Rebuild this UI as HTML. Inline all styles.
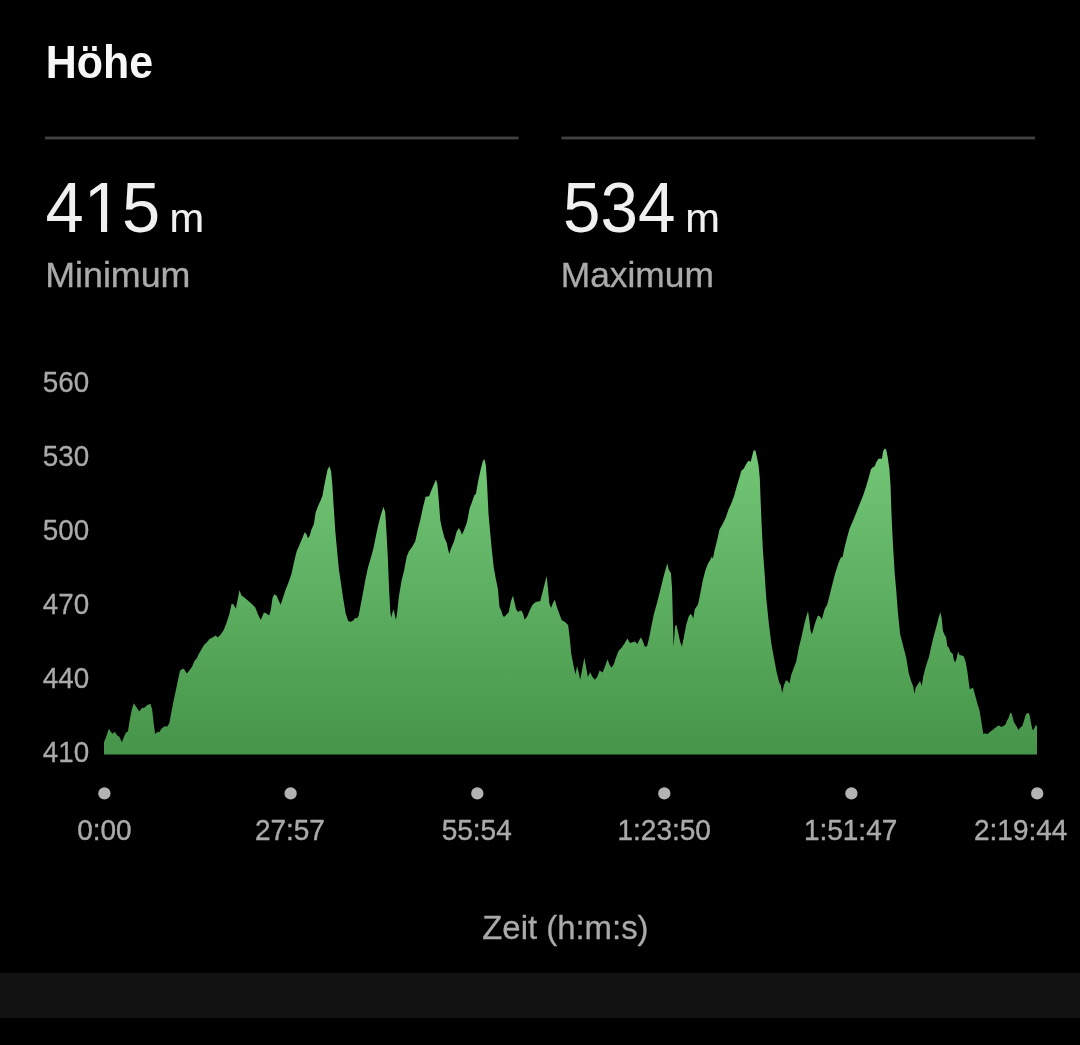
<!DOCTYPE html>
<html lang="de">
<head>
<meta charset="utf-8">
<title>Höhe</title>
<style>
html,body{margin:0;padding:0;background:#000;}
body{width:1080px;height:1045px;overflow:hidden;font-family:"Liberation Sans",sans-serif;}
svg{display:block;will-change:transform;}
svg text{font-family:"Liberation Sans",sans-serif;}
</style>
</head>
<body>
<svg width="1080" height="1045" viewBox="0 0 1080 1045">
<defs><linearGradient id="g" gradientUnits="userSpaceOnUse" x1="0" y1="384" x2="0" y2="754"><stop offset="0" stop-color="#7bd17f"/><stop offset="1" stop-color="#46954a"/></linearGradient></defs>
<rect x="0" y="0" width="1080" height="1045" fill="#000"/>
<rect x="0" y="973" width="1080" height="45" fill="#121212"/>
<rect x="45" y="136.6" width="473.5" height="2.8" fill="#424242"/>
<rect x="561.5" y="136.6" width="473.5" height="2.8" fill="#424242"/>
<path d="M104.0 754.4L104.0 741.9L104.1 741.9L105.9 737.4L108.9 728.8L111.1 732.2L112.6 733.7L114.8 731.8L117.0 735.2L119.3 736.7L121.9 742.3L124.4 735.9L125.9 732.7L127.9 731.5L129.6 721.1L131.9 709.3L133.8 703.3L136.3 707.0L139.3 711.5L142.2 707.8L144.0 708.1L147.4 705.1L150.4 703.8L152.1 709.3L153.6 722.6L155.1 734.1L157.8 731.8L159.3 732.2L161.5 728.5L163.7 727.0L165.2 726.0L167.0 726.7L169.3 723.3L171.1 713.7L173.3 701.9L175.6 691.5L177.8 681.1L180.0 670.7L183.0 668.5L184.7 670.0L186.7 673.4L188.9 671.0L191.9 667.0L194.8 660.4L197.0 658.1L198.5 654.4L201.5 649.3L204.4 644.4L206.7 642.6L209.6 638.9L212.6 637.4L215.6 635.5L217.8 637.4L220.7 634.4L223.7 630.0L226.7 622.3L229.5 613.5L231.7 603.5L233.8 604.8L235.8 608.8L237.6 599.7L239.5 590.2L241.5 595.4L245.0 598.0L248.4 601.1L251.9 604.0L255.3 607.4L257.9 614.3L260.8 620.0L263.9 612.6L266.5 613.5L269.1 615.5L270.8 610.0L272.5 598.0L274.3 594.2L276.5 595.4L278.6 600.5L280.6 604.8L282.9 598.0L285.4 590.2L288.9 581.6L291.5 573.8L294.1 561.8L296.6 551.5L299.2 545.4L301.8 539.4L304.7 532.2L306.5 534.2L307.8 538.2L309.6 536.0L311.3 529.9L313.9 523.9L315.6 512.7L318.2 505.8L320.8 500.1L322.5 495.5L324.2 486.0L325.9 477.4L327.6 469.6L329.4 466.2L331.1 471.4L332.3 484.3L333.7 506.7L335.4 532.5L337.1 550.6L338.8 568.7L340.6 580.7L343.1 597.9L345.7 613.5L348.3 621.2L350.9 621.7L353.5 620.3L355.2 617.8L356.9 618.6L358.6 616.0L360.4 606.6L363.0 592.8L365.5 579.0L368.1 567.0L370.7 558.3L373.3 548.9L375.9 536.0L378.5 523.9L381.0 514.4L383.4 506.8L385.2 512.0L386.5 532.7L387.8 556.8L389.0 587.8L390.3 611.9L391.2 617.4L392.4 612.8L393.8 609.3L395.2 617.1L396.0 619.7L397.2 611.9L398.9 596.4L401.5 580.9L404.1 570.6L406.7 556.8L408.9 551.3L411.9 547.3L415.3 541.3L417.9 529.2L420.5 518.9L423.1 506.8L425.6 496.8L429.1 496.2L431.7 489.6L434.3 483.6L436.0 479.6L437.4 484.4L438.6 498.2L440.3 520.6L442.0 528.4L444.6 538.2L446.8 543.0L448.0 549.0L449.2 553.9L451.5 547.3L454.1 541.3L456.6 531.8L458.9 527.9L460.6 531.0L462.0 534.7L464.4 529.2L467.0 522.3L469.6 508.6L472.1 501.7L474.4 495.1L475.9 493.9L478.2 481.0L480.8 468.9L482.8 461.2L484.4 459.0L485.9 465.5L487.1 484.4L488.5 513.7L490.2 532.7L492.0 551.6L493.7 567.1L495.7 578.3L498.0 589.5L499.4 606.7L501.4 611.0L502.6 615.3L504.0 617.1L506.6 614.5L508.8 611.9L510.9 601.6L513.0 595.5L514.3 601.6L516.1 609.3L518.3 612.2L519.9 610.5L521.6 611.0L523.0 613.6L524.7 619.7L527.3 616.2L529.8 610.2L532.4 605.0L535.0 602.4L537.6 601.6L540.2 601.2L542.8 591.2L545.0 582.6L546.6 576.1L547.9 587.8L549.3 603.3L551.0 608.1L552.8 603.3L554.8 599.5L557.1 607.7L559.4 614.0L561.8 620.3L565.0 621.9L568.1 625.0L569.7 637.6L571.2 653.3L573.3 664.4L575.5 674.6L577.1 665.9L578.6 672.2L580.2 679.8L582.3 669.1L584.3 657.7L585.9 665.9L587.8 676.9L590.1 672.2L592.5 676.9L594.9 679.8L597.2 676.9L599.6 670.6L602.7 672.5L605.1 665.9L607.5 659.6L609.5 664.4L611.4 667.8L613.7 664.4L616.1 657.3L618.5 651.0L621.6 647.8L624.8 643.1L627.4 638.4L630.0 643.1L632.6 642.3L635.0 641.5L637.4 643.9L638.9 640.7L641.0 637.3L642.9 641.5L644.9 646.7L647.1 646.2L649.2 637.6L651.5 625.8L653.9 614.0L657.0 603.0L660.2 590.4L663.3 577.8L665.7 569.1L667.3 563.6L668.8 569.9L670.9 573.1L672.0 587.2L672.8 615.6L673.6 647.0L675.1 625.8L676.4 625.0L678.3 632.9L679.9 640.7L681.9 646.7L683.8 637.6L686.2 625.0L688.5 617.1L690.6 613.7L692.1 615.6L693.2 618.7L694.8 609.3L698.0 604.5L700.0 595.0L702.6 581.2L705.2 570.9L707.8 564.0L710.3 559.7L711.7 556.8L712.9 558.5L714.6 550.2L717.2 539.9L719.5 529.6L722.4 524.4L725.8 517.5L728.4 509.8L731.9 502.0L734.4 495.1L737.0 485.6L739.6 477.0L741.3 470.7L743.9 468.4L745.6 465.0L748.2 461.0L750.8 461.5L752.5 454.6L753.7 450.3L755.5 450.7L756.8 456.4L758.6 465.8L759.8 477.9L760.6 500.3L761.7 526.1L762.9 550.2L764.5 571.7L766.2 597.5L768.8 623.3L771.4 644.0L773.9 657.8L776.5 671.6L779.1 681.9L780.8 685.3L782.2 693.1L783.9 685.3L786.0 680.2L787.7 681.0L789.4 683.6L791.2 675.0L793.8 668.1L796.3 661.2L798.9 647.5L801.5 637.1L804.1 625.1L806.3 616.5L808.0 611.3L809.3 619.9L810.5 630.2L811.8 634.5L813.6 628.5L815.3 622.5L817.9 615.6L820.1 616.5L821.8 619.6L823.6 613.0L824.8 608.7L827.3 604.4L829.9 594.1L832.5 583.7L835.1 573.4L838.5 563.1L841.1 557.0L842.5 557.5L844.3 548.5L846.9 538.2L849.5 528.7L852.9 520.9L856.4 512.3L859.8 503.7L863.3 495.1L865.8 487.4L868.4 478.8L871.0 469.3L872.7 467.2L874.4 466.7L876.2 462.4L878.2 458.9L880.5 458.6L881.9 458.9L883.1 451.2L884.8 448.6L886.2 449.5L887.7 457.2L889.4 469.3L890.5 484.8L891.3 508.9L892.2 529.6L893.4 552.0L894.8 574.3L896.2 590.0L897.8 611.1L900.1 633.9L903.0 645.3L906.3 658.3L908.7 673.0L911.1 681.1L913.3 686.8L914.4 694.1L915.7 687.6L917.2 685.2L918.8 682.7L920.1 681.1L921.7 686.0L923.3 676.2L925.8 666.5L929.0 656.7L931.5 645.3L933.9 635.6L936.4 626.6L938.8 616.8L940.4 612.4L941.7 618.5L942.9 630.7L944.5 634.7L946.1 637.2L947.3 646.1L948.9 647.8L950.5 652.1L952.6 653.4L953.9 660.0L955.1 662.4L956.4 659.1L958.0 651.8L959.6 655.1L961.6 655.4L963.5 655.9L965.6 661.6L967.3 671.3L968.6 681.1L969.7 689.2L971.3 688.4L973.0 687.6L974.6 693.3L977.0 702.2L979.5 710.4L981.1 720.1L982.4 728.3L983.3 733.9L985.4 733.2L987.0 734.2L989.3 732.6L992.5 730.0L995.7 727.4L998.3 725.5L1000.0 726.0L1001.2 727.1L1003.5 726.1L1005.5 724.5L1006.8 720.9L1008.7 717.7L1010.0 713.5L1011.0 712.5L1012.3 715.7L1013.9 722.2L1016.2 725.8L1018.4 730.0L1020.4 727.4L1022.3 726.1L1023.9 720.9L1025.6 715.1L1026.8 713.5L1028.5 712.8L1029.8 715.7L1031.1 723.5L1032.4 729.3L1033.3 730.3L1034.6 727.4L1035.9 725.1L1036.9 726.1L1037.0 726.1L1037.0 754.4 Z" fill="url(#g)"/>
<circle cx="104.4" cy="793.4" r="6.15" fill="#b3b3b3"/>
<circle cx="290.6" cy="793.4" r="6.15" fill="#b3b3b3"/>
<circle cx="477.3" cy="793.4" r="6.15" fill="#b3b3b3"/>
<circle cx="664.3" cy="793.4" r="6.15" fill="#b3b3b3"/>
<circle cx="851.4" cy="793.4" r="6.15" fill="#b3b3b3"/>
<circle cx="1037.2" cy="793.4" r="6.15" fill="#b3b3b3"/>
<g style="filter:grayscale(1)">
<text x="45.70" y="78.50" font-size="46.80" fill="#f7f7f7" font-weight="bold" text-anchor="start" transform="translate(45.70 0) scale(0.9180 1) translate(-45.70 0)">Höhe</text>
<text x="45.50" y="231.90" font-size="71.00" fill="#f0f0f0" font-weight="normal" text-anchor="start" transform="translate(45.50 0) scale(0.9680 1) translate(-45.50 0)">415</text>
<text x="169.50" y="231.90" font-size="41.50" fill="#f0f0f0" font-weight="normal" text-anchor="start" stroke="#f0f0f0" stroke-width="0.20" stroke-linejoin="round">m</text>
<text x="45.20" y="286.60" font-size="34.60" fill="#aaaaaa" font-weight="normal" text-anchor="start" stroke="#aaaaaa" stroke-width="0.30" stroke-linejoin="round" transform="translate(45.20 0) scale(1.0350 1) translate(-45.20 0)">Minimum</text>
<text x="563.00" y="231.90" font-size="71.00" fill="#f0f0f0" font-weight="normal" text-anchor="start" transform="translate(563.00 0) scale(0.9490 1) translate(-563.00 0)">534</text>
<text x="685.20" y="231.90" font-size="41.50" fill="#f0f0f0" font-weight="normal" text-anchor="start" stroke="#f0f0f0" stroke-width="0.20" stroke-linejoin="round">m</text>
<text x="560.70" y="286.60" font-size="34.60" fill="#aaaaaa" font-weight="normal" text-anchor="start" stroke="#aaaaaa" stroke-width="0.30" stroke-linejoin="round" transform="translate(560.70 0) scale(1.0220 1) translate(-560.70 0)">Maximum</text>
<text x="42.80" y="391.80" font-size="28.90" fill="#aaaaaa" font-weight="normal" text-anchor="start" stroke="#aaaaaa" stroke-width="0.30" stroke-linejoin="round" transform="translate(42.80 0) scale(0.9620 1) translate(-42.80 0)">560</text>
<text x="42.80" y="465.80" font-size="28.90" fill="#aaaaaa" font-weight="normal" text-anchor="start" stroke="#aaaaaa" stroke-width="0.30" stroke-linejoin="round" transform="translate(42.80 0) scale(0.9620 1) translate(-42.80 0)">530</text>
<text x="42.80" y="539.80" font-size="28.90" fill="#aaaaaa" font-weight="normal" text-anchor="start" stroke="#aaaaaa" stroke-width="0.30" stroke-linejoin="round" transform="translate(42.80 0) scale(0.9620 1) translate(-42.80 0)">500</text>
<text x="42.80" y="613.80" font-size="28.90" fill="#aaaaaa" font-weight="normal" text-anchor="start" stroke="#aaaaaa" stroke-width="0.30" stroke-linejoin="round" transform="translate(42.80 0) scale(0.9620 1) translate(-42.80 0)">470</text>
<text x="42.80" y="687.80" font-size="28.90" fill="#aaaaaa" font-weight="normal" text-anchor="start" stroke="#aaaaaa" stroke-width="0.30" stroke-linejoin="round" transform="translate(42.80 0) scale(0.9620 1) translate(-42.80 0)">440</text>
<text x="42.80" y="761.80" font-size="28.90" fill="#aaaaaa" font-weight="normal" text-anchor="start" stroke="#aaaaaa" stroke-width="0.30" stroke-linejoin="round" transform="translate(42.80 0) scale(0.9620 1) translate(-42.80 0)">410</text>
<text x="104.40" y="839.90" font-size="29.00" fill="#aaaaaa" font-weight="normal" text-anchor="middle" stroke="#aaaaaa" stroke-width="0.40" stroke-linejoin="round" transform="translate(104.40 0) scale(0.9650 1) translate(-104.40 0)">0:00</text>
<text x="289.90" y="839.90" font-size="29.00" fill="#aaaaaa" font-weight="normal" text-anchor="middle" stroke="#aaaaaa" stroke-width="0.40" stroke-linejoin="round" transform="translate(289.90 0) scale(0.9650 1) translate(-289.90 0)">27:57</text>
<text x="476.70" y="839.90" font-size="29.00" fill="#aaaaaa" font-weight="normal" text-anchor="middle" stroke="#aaaaaa" stroke-width="0.40" stroke-linejoin="round" transform="translate(476.70 0) scale(0.9650 1) translate(-476.70 0)">55:54</text>
<text x="664.20" y="839.90" font-size="29.00" fill="#aaaaaa" font-weight="normal" text-anchor="middle" stroke="#aaaaaa" stroke-width="0.40" stroke-linejoin="round" transform="translate(664.20 0) scale(0.9650 1) translate(-664.20 0)">1:23:50</text>
<text x="850.60" y="839.90" font-size="29.00" fill="#aaaaaa" font-weight="normal" text-anchor="middle" stroke="#aaaaaa" stroke-width="0.40" stroke-linejoin="round" transform="translate(850.60 0) scale(0.9650 1) translate(-850.60 0)">1:51:47</text>
<text x="1020.70" y="839.90" font-size="29.00" fill="#aaaaaa" font-weight="normal" text-anchor="middle" stroke="#aaaaaa" stroke-width="0.40" stroke-linejoin="round" transform="translate(1020.70 0) scale(0.9650 1) translate(-1020.70 0)">2:19:44</text>
<text x="565.40" y="939.40" font-size="32.90" fill="#aaaaaa" font-weight="normal" text-anchor="middle" stroke="#aaaaaa" stroke-width="0.30" stroke-linejoin="round">Zeit (h:m:s)</text>
</g>
<rect x="88" y="225.5" width="13.0" height="7.5" fill="#000"/>
<rect x="107.15" y="225.5" width="12.6" height="7.5" fill="#000"/>
</svg>
</body>
</html>
